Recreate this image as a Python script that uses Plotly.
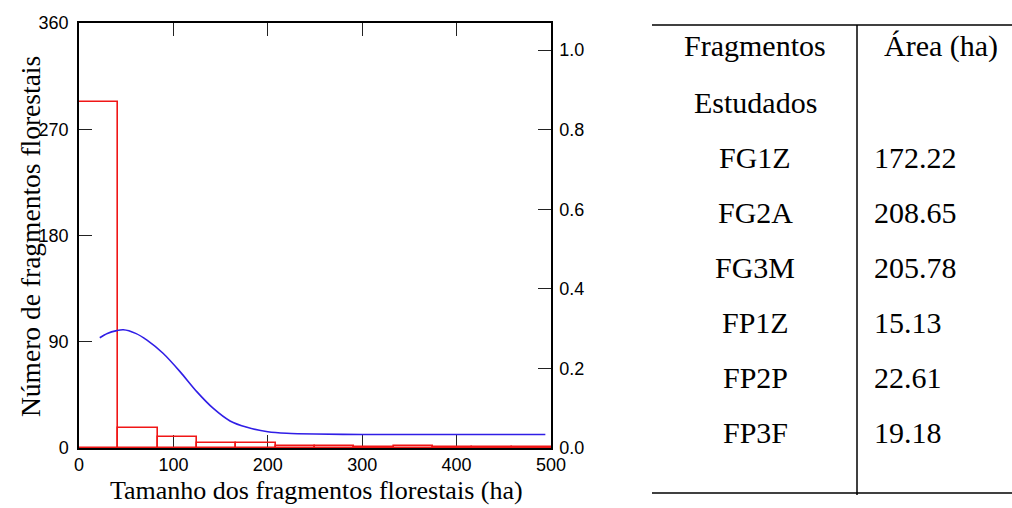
import plotly.graph_objects as go

# ---------------- data ----------------
bin_left = [0, 41.67, 83.33, 125.0, 166.67, 208.33, 250.0, 291.67, 333.33, 375.0, 416.67, 458.33]
bin_width = 41.67
counts = [293, 17, 9, 4, 4, 1.5, 1.5, 1, 2, 1, 1, 1]

curve_x = [22, 30, 40, 47, 60, 72, 89, 107, 125, 142, 160, 178, 200, 220, 250, 300, 400, 494]
curve_y = [0.277, 0.288, 0.295, 0.297, 0.288, 0.271, 0.238, 0.192, 0.141, 0.100, 0.068,
           0.052, 0.041, 0.037, 0.035, 0.034, 0.034, 0.034]

x_ticks = [0, 100, 200, 300, 400, 500]
y_left_ticks = [0, 90, 180, 270, 360]
y_right_ticks = [0.0, 0.2, 0.4, 0.6, 0.8, 1.0]

table_names = ["FG1Z", "FG2A", "FG3M", "FP1Z", "FP2P", "FP3F"]
table_areas = ["172.22", "208.65", "205.78", "15.13", "22.61", "19.18"]

# ---------------- figure ----------------
W, H = 1012, 508
L, R, T, B = 79, 551, 23, 448   # plot-area pixel box
RED = "rgb(240,22,22)"
BLUE = "rgb(48,30,230)"

fig = go.Figure()
fig.add_trace(go.Bar(
    x=bin_left, y=counts, width=bin_width, offset=0,
    marker=dict(color="rgba(0,0,0,0)", line=dict(color=RED, width=1.6)),
    showlegend=False, hoverinfo="skip",
))
fig.add_trace(go.Scatter(
    x=curve_x, y=curve_y, mode="lines", yaxis="y2",
    line=dict(color=BLUE, width=1.6, shape="spline", smoothing=0.8),
    showlegend=False,
))

# pixel -> paper coordinates (paper = plot area)
px = lambda v: (v - L) / (R - L)
py = lambda v: (B - v) / (B - T)

tick_font = dict(family="Liberation Sans, Arial", size=18, color="black")
serif = "Liberation Serif, Times New Roman"

fig.update_layout(
    width=W, height=H,
    margin=dict(l=L, r=W - R, t=T, b=H - B, pad=0),
    paper_bgcolor="white", plot_bgcolor="white",
    bargap=0,
    xaxis=dict(
        range=[0, 500], tickvals=x_ticks, automargin=False,
        ticks="inside", ticklen=13, tickcolor="#222", tickwidth=1.3,
        showline=True, linecolor="black", linewidth=1.5, mirror="ticks",
        showgrid=False, zeroline=False, tickfont=tick_font,
        layer="below traces",
    ),
    yaxis=dict(
        range=[0, 360], tickvals=y_left_ticks, automargin=False,
        ticks="inside", ticklen=13, tickcolor="#222", tickwidth=1.3,
        showline=True, linecolor="black", linewidth=1.5,
        showgrid=False, zeroline=False, tickfont=tick_font,
        layer="below traces", ticklabelstandoff=5,
    ),
    yaxis2=dict(
        overlaying="y", side="right", anchor="x", automargin=False,
        range=[0, 1.068], tickvals=y_right_ticks, ticktext=[f"{v:.1f}" for v in y_right_ticks],
        ticks="inside", ticklen=13, tickcolor="#222", tickwidth=1.3,
        showline=True, linecolor="black", linewidth=1.5,
        showgrid=False, zeroline=False, tickfont=tick_font,
        ticklabelstandoff=3,
    ),
)

# axis titles as annotations for exact placement
fig.add_annotation(text="Tamanho dos fragmentos florestais (ha)", x=px(316), y=py(491),
                   xref="paper", yref="paper", xanchor="center", yanchor="middle",
                   showarrow=False, font=dict(family=serif, size=26, color="black"))
fig.add_annotation(text="Número de fragmentos florestais", x=px(30), y=py(237),
                   xref="paper", yref="paper", xanchor="center", yanchor="middle", textangle=-90,
                   showarrow=False, font=dict(family=serif, size=27.5, color="black"))

# ---------------- table ----------------
tfont = dict(family=serif, size=30, color="black")
line_style = dict(color="black", width=1.5)
fig.add_shape(type="line", xref="paper", yref="paper", x0=px(652), x1=px(1012), y0=py(25), y1=py(25), line=line_style)
fig.add_shape(type="line", xref="paper", yref="paper", x0=px(652), x1=px(1012), y0=py(493), y1=py(493), line=line_style)
fig.add_shape(type="line", xref="paper", yref="paper", x0=px(857), x1=px(857), y0=py(25), y1=py(495), line=line_style)

def ann(text, x, y, xanchor="center"):
    fig.add_annotation(text=text, x=px(x), y=py(y), xref="paper", yref="paper",
                       xanchor=xanchor, yanchor="middle", showarrow=False, font=tfont)

ann("Fragmentos", 755, 46)
ann("Estudados", 755, 102)
ann("Área (ha)", 882, 46, "left")
row_y0 = 157
for i, (n, a) in enumerate(zip(table_names, table_areas)):
    y = row_y0 + 55 * i
    ann(n, 755, y)
    ann(a, 872, y, "left")

fig.write_html("out.html")
